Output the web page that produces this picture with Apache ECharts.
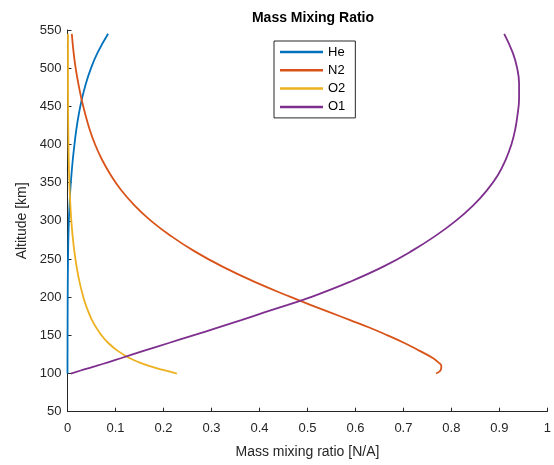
<!DOCTYPE html>
<html>
<head>
<meta charset="utf-8">
<script src="https://cdn.jsdelivr.net/npm/echarts@6/dist/echarts.min.js"></script>
<style>
html,body{margin:0;padding:0;background:#fff;}
#chart{width:554px;height:465px;}
</style>
</head>
<body>
<div id="chart"></div>
<script>
var altitudes = [100,105,110,115,120,130,140,150,160,170,180,190,200,220,240,260,280,300,320,340,360,380,400,420,440,460,480,500,520,545];
var heValues = [0,0,0,0,0,0.0001,0.0001,0.0001,0.0002,0.0002,0.0003,0.0003,0.0004,0.0006,0.0009,0.0013,0.0019,0.0028,0.0042,0.0058,0.0082,0.0110,0.0145,0.0185,0.0236,0.0301,0.0384,0.0490,0.0625,0.0846];
var n2Values = [0.768,0.778,0.779,0.772,0.762,0.733,0.702,0.667,0.630,0.589,0.547,0.506,0.466,0.390,0.323,0.265,0.216,0.174,0.140,0.112,0.090,0.072,0.0575,0.046,0.0369,0.029,0.0225,0.017,0.0128,0.009];
var o2Values = [0.228,0.197,0.170,0.148,0.130,0.104,0.085,0.071,0.060,0.051,0.044,0.038,0.033,0.025,0.019,0.0143,0.0107,0.008,0.006,0.0045,0.0034,0.0026,0.002,0.0016,0.0013,0.0011,0.001,0.001,0.001,0.001];
var o1Values = [0.007,0.033,0.060,0.086,0.111,0.160,0.211,0.262,0.313,0.362,0.410,0.459,0.507,0.588,0.658,0.716,0.766,0.809,0.845,0.874,0.897,0.913,0.925,0.933,0.938,0.941,0.941,0.937,0.928,0.910];
var seriesNames = ['He','N2','O2','O1'];
var seriesColors = ['#0072BD','#D95319','#EDB120','#7E2F8E'];
var xTickMin = 0, xTickMax = 1, xTickStep = 0.1;
var yTickMin = 50, yTickMax = 550, yTickStep = 50;

var allValues = [heValues, n2Values, o2Values, o1Values];
var FONT = 'Liberation Sans, Arial, Helvetica, sans-serif';
var axisColor = '#262626';

var chart = echarts.init(document.getElementById('chart'), null, {renderer:'canvas'});
var series = seriesNames.map(function(name, k){
  return {
    name: name,
    type: 'line',
    data: altitudes.map(function(a, i){ return [allValues[k][i], a]; }),
    showSymbol: false,
    symbol: 'none',
    smooth: 0.45,
    lineStyle: {width: 1.8, color: seriesColors[k]},
    itemStyle: {color: seriesColors[k]},
    clip: false,
    animation: false
  };
});

chart.setOption({
  animation: false,
  backgroundColor: '#fff',
  title: {
    text: 'Mass Mixing Ratio',
    left: 308,
    top: 6,
    textAlign: 'center',
    textStyle: {fontFamily: FONT, fontSize: 14, fontWeight: 'bold', color: '#000'}
  },
  legend: {
    data: seriesNames,
    orient: 'vertical',
    left: 274,
    top: 41,
    padding: [4, 10, 4, 6],
    itemWidth: 43,
    itemHeight: 2.5,
    itemGap: 4.3,
    icon: 'rect',
    borderColor: axisColor,
    borderWidth: 1,
    borderRadius: 0,
    backgroundColor: '#fff',
    textStyle: {fontFamily: FONT, fontSize: 13, color: '#000', lineHeight: 14}
  },
  grid: {left: 67.5, right: 4.5, top: 30, bottom: 53.3, containLabel: false},
  xAxis: {
    type: 'value',
    min: xTickMin, max: xTickMax, interval: xTickStep,
    name: 'Mass mixing ratio [N/A]',
    nameLocation: 'middle',
    nameGap: 33,
    nameTextStyle: {fontFamily: FONT, fontSize: 14, color: axisColor},
    axisLine: {show: true, onZero: false, lineStyle: {color: axisColor, width: 1}},
    axisTick: {show: true, inside: true, length: 4, lineStyle: {color: axisColor}},
    axisLabel: {fontFamily: FONT, fontSize: 13, color: axisColor, margin: 10},
    splitLine: {show: false}
  },
  yAxis: {
    type: 'value',
    min: yTickMin, max: yTickMax, interval: yTickStep,
    name: 'Altitude [km]',
    nameLocation: 'middle',
    nameGap: 38,
    nameTextStyle: {fontFamily: FONT, fontSize: 14, color: axisColor},
    axisLine: {show: true, onZero: false, lineStyle: {color: axisColor, width: 1}},
    axisTick: {show: true, inside: true, length: 4, lineStyle: {color: axisColor}},
    axisLabel: {fontFamily: FONT, fontSize: 13, color: axisColor, margin: 6},
    splitLine: {show: false}
  },
  series: series
});
</script>
</body>
</html>
